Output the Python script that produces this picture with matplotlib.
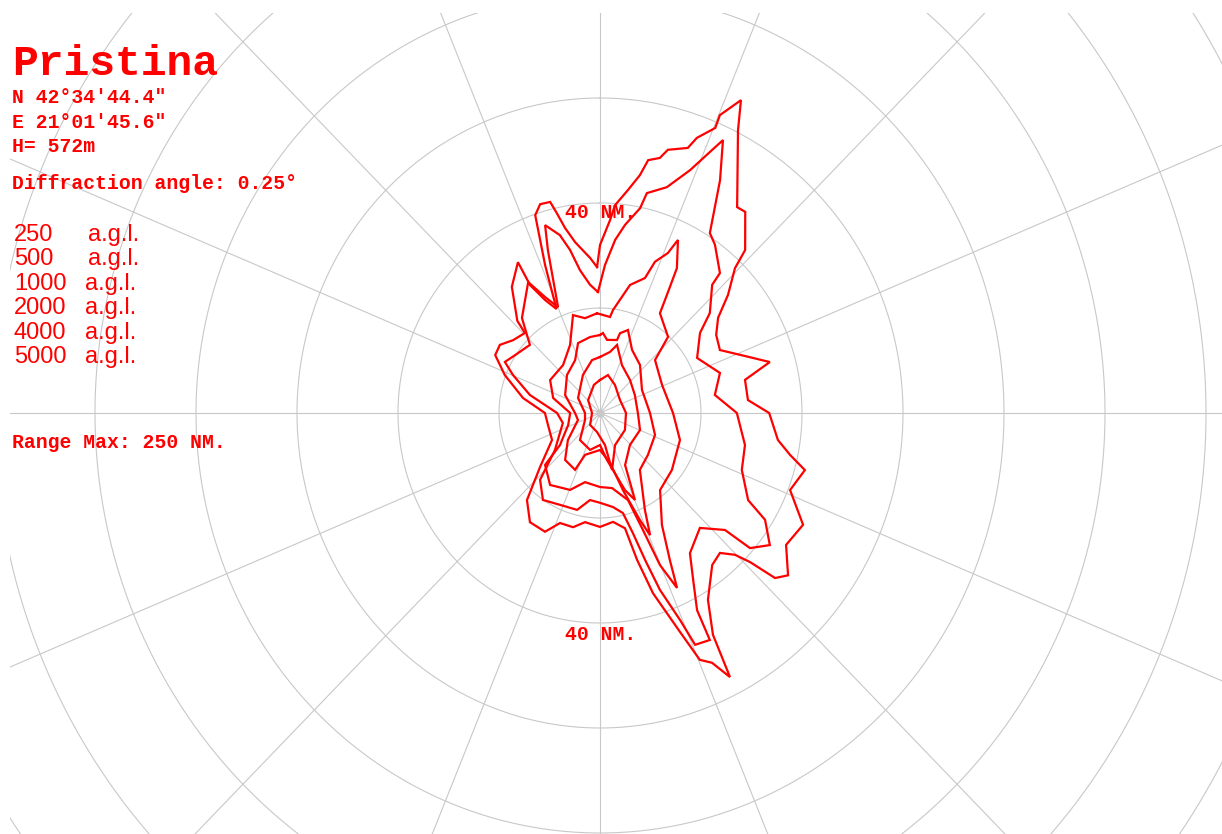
import numpy as np
import matplotlib
matplotlib.use("Agg")
import matplotlib.pyplot as plt

# ---- coverage contours: azimuth (deg, clockwise from north) and range (NM) ----
az_5000 = [358.8, 0.0, 3.1, 4.3, 7.4, 9.9, 11.2, 13.7, 15.0, 19.0, 20.1, 22.8, 22.7, 25.1,
           26.9, 34.7, 36.9, 42.8, 44.1, 48.4, 52.2, 57.1, 63.2, 69.3, 73.9, 77.6, 85.2, 90.0,
           98.3, 102.0, 105.0, 111.3, 117.9, 124.3, 129.7, 132.2, 133.7, 135.3, 138.3, 142.5,
           149.0, 152.1, 152.9, 155.0, 157.2, 159.2, 163.0, 165.3, 167.3, 172.9, 180.0, 188.1,
           193.8, 200.7, 205.7, 213.7, 221.1, 229.1, 241.6, 257.5, 270.0, 280.6, 291.0, 298.0,
           303.2, 308.9, 315.7, 317.0, 324.0, 330.5, 330.4, 333.2, 336.5, 338.9, 341.2, 343.4,
           346.2, 347.2, 348.9, 351.4, 356.2, 358.8]
rng_5000 = [27.8, 32.0, 36.8, 39.7, 42.8, 46.0, 49.1, 50.0, 51.9, 53.4, 55.8, 58.9, 61.5, 65.8,
            60.4, 47.7, 47.9, 42.3, 38.4, 33.9, 29.6, 27.4, 26.6, 30.7, 35.0, 29.4, 29.4, 33.5,
            35.6, 38.5, 42.0, 40.4, 45.5, 44.6, 48.4, 46.8, 41.1, 38.0, 35.7, 36.5,
            41.5, 47.8, 56.5, 52.5, 51.0, 44.6, 35.9, 28.9, 22.5, 20.9, 21.7, 21.0,
            22.4, 22.4, 25.1, 25.0, 22.0, 15.7, 10.8, 10.55, 10.9, 15.5, 20.2, 23.5,
            23.7, 22.1, 21.3, 24.0, 29.7, 33.0, 28.0, 24.1, 21.6, 30.2, 39.8, 41.5,
            41.4, 39.3, 35.9, 32.9, 29.6, 27.8]

az_4000 = [359.0, 2.0, 5.2, 7.9, 11.5, 12.5, 17.1, 21.1, 23.9, 25.1, 28.2, 32.4, 35.4, 41.7,
           42.3, 48.8, 52.4, 61.4, 72.2, 81.4, 90.0, 102.0, 111.1, 119.5, 121.9, 126.8, 130.9,
           132.0, 137.9, 146.3, 149.9, 152.9, 153.3, 156.9, 158.1, 160.6, 162.3, 164.1, 166.6,
           171.8, 180.0, 186.8, 193.8, 204.3, 214.3, 223.0, 231.6, 255.5, 270.0, 283.9, 292.8,
           297.3, 303.3, 313.1, 319.5, 330.3, 333.8, 337.6, 341.6, 343.1, 346.8, 349.2, 351.7,
           355.4, 359.0]
rng_4000 = [23.05, 28.2, 33.1, 36.2, 39.8, 42.9, 45.0, 49.6, 54.8, 57.4, 50.3, 40.6, 39.3, 35.7,
            33.0, 28.9, 25.0, 21.9, 24.95, 23.0, 27.1, 29.35, 30.1, 33.7, 38.5, 42.0, 39.3,
            33.3, 29.5, 32.1, 36.8, 42.2, 48.4, 48.0, 42.5, 35.7, 29.4, 23.8, 19.6,
            18.1, 17.1, 16.7, 19.0, 19.2, 20.05, 17.4, 11.4, 7.6, 8.5, 14.3, 18.7,
            21.2, 20.1, 19.0, 23.8, 28.7, 24.6, 21.8, 32.7, 37.4, 34.8, 31.6, 27.5,
            24.5, 23.05]

az_2000 = [358.2, 6.2, 7.5, 13.7, 19.1, 20.7, 23.8, 25.1, 28.9, 30.3, 32.0, 42.9, 47.2, 66.5,
           90.0, 108.0, 127.3, 141.0, 150.1, 153.7, 155.4, 157.7, 159.1, 161.5, 170.5, 180.0,
           192.7, 202.0, 215.8, 227.7, 232.4, 250.1, 270.0, 287.1, 302.4, 321.3, 335.4, 344.0,
           350.7, 358.2]
rng_2000 = [19.0, 18.4, 19.8, 25.1, 27.2, 30.8, 33.3, 36.4, 31.5, 26.7, 22.4, 19.8, 14.85, 13.4,
            14.46, 16.65, 17.9, 18.9, 24.6, 31.2, 36.65, 31.3, 23.9, 17.5, 14.5, 14.1,
            13.5, 15.8, 16.9, 14.7, 10.0, 6.7, 5.9, 9.7, 11.7, 11.7, 14.25, 19.4,
            18.3, 19.0]

az_1000 = [0.0, 2.2, 5.7, 13.6, 14.6, 19.3, 27.8, 40.9, 62.2, 90.0, 111.0, 130.1, 143.9, 154.3,
           156.9, 158.8, 162.8, 168.2, 180.0, 200.4, 204.5, 217.7, 230.9, 253.0, 270.0, 296.3,
           317.9, 333.9, 341.9, 352.2, 360.0]
rng_1000 = [14.86, 15.25, 14.0, 14.3, 15.7, 16.75, 13.6, 12.1, 9.4, 9.9, 11.67, 12.4, 13.4, 20.5,
            25.3, 21.9, 15.4, 9.7, 7.05, 8.5, 11.9, 11.3, 8.2, 4.56, 4.95, 7.7,
            9.75, 11.2, 14.0, 14.6, 14.86]

az_500 = [0.0, 9.7, 14.6, 25.5, 43.4, 63.7, 90.0, 112.2, 135.8, 153.4, 157.3, 161.4, 171.2,
          180.0, 195.7, 217.6, 245.9, 270.0, 303.3, 335.0, 351.1, 360.0]
rng_500 = [10.67, 11.8, 13.4, 10.1, 8.65, 7.7, 7.5, 8.56, 8.5, 11.1, 17.96, 15.5, 9.06,
           6.1, 7.3, 6.5, 3.25, 2.97, 5.2, 8.0, 10.2, 10.67]

az_250 = [0.0, 12.3, 29.1, 58.0, 90.0, 123.2, 154.0, 167.6, 170.8, 189.3, 220.8, 270.0, 316.2,
          347.4, 360.0]
rng_250 = [6.29, 7.4, 6.1, 4.67, 5.15, 5.9, 6.8, 11.1, 6.2, 3.67, 3.0, 1.58, 3.4, 5.5, 6.29]

levels = ["250", "500", "1000", "2000", "4000", "5000"]
site_name = "Pristina"
site_lines = ["N 42\u00b034'44.4\"", "E 21\u00b001'45.6\"", "H= 572m"]
diffraction = "Diffraction angle: 0.25\u00b0"
range_max = "Range Max: 250 NM."
ring_label = "40 NM."

ring_step = 20      # NM between range rings
spoke_step = 22.5   # degrees between radial lines

# ---- figure geometry (pixels) ----
W, H = 1222, 834
cx, cy = 600, 413          # station position
px_x, px_y = 5.05, 5.25    # pixels per NM, horizontal / vertical
left_px, top_px = 10, 13

fig = plt.figure(figsize=(W / 100, H / 100), dpi=100)
fig.patch.set_facecolor("white")
ax = fig.add_axes([left_px / W, 0, (W - left_px) / W, (H - top_px) / H])
ax.set_xlim((left_px - cx) / px_x, (W - cx) / px_x)
ax.set_ylim((cy - H) / px_y, (cy - top_px) / px_y)
ax.axis("off")

grid_col = "#c8c8c8"
t = np.linspace(0, 2 * np.pi, 721)
for r in np.arange(ring_step, 601, ring_step):
    ax.plot(r * np.sin(t), r * np.cos(t), color=grid_col, lw=0.8, zorder=1)
for a in np.arange(0, 360, spoke_step):
    th = np.radians(a)
    ax.plot([0, 800 * np.sin(th)], [0, 800 * np.cos(th)], color=grid_col, lw=0.8, zorder=1)
ax.plot([0], [0], "o", color=grid_col, ms=5, zorder=1)

red = "#ff0000"
for az, rng in [(az_250, rng_250), (az_500, rng_500), (az_1000, rng_1000),
                (az_2000, rng_2000), (az_4000, rng_4000), (az_5000, rng_5000)]:
    th = np.radians(np.asarray(az))
    rr = np.asarray(rng)
    ax.plot(rr * np.sin(th), rr * np.cos(th), color=red, lw=1.6, zorder=3,
            solid_joinstyle="miter")


def ftext(x, y, s, **kw):
    fig.text(x / W, 1 - y / H, s, color=red, va="baseline", **kw)


mono = dict(family="Liberation Mono", weight="bold")
ftext(12, 75, site_name, fontsize=31, **mono)
for i, s in enumerate(site_lines):
    ftext(12, 103 + 24.5 * i, s, fontsize=14.2, **mono)
ftext(12, 189, diffraction, fontsize=14.2, **mono)
ftext(12, 448, range_max, fontsize=14.2, **mono)
ftext(601, 218, ring_label, fontsize=14.2, ha="center", **mono)
ftext(601, 640, ring_label, fontsize=14.2, ha="center", **mono)

sans = dict(family="Liberation Sans")
for i, lv in enumerate(levels):
    yb = 241 + 24.4 * i
    ftext(14, yb, lv, fontsize=17, **sans)
    ftext(88 if len(lv) < 4 else 85, yb, "a.g.l.", fontsize=17, **sans)

fig.savefig("out.png", dpi=100, facecolor="white")
